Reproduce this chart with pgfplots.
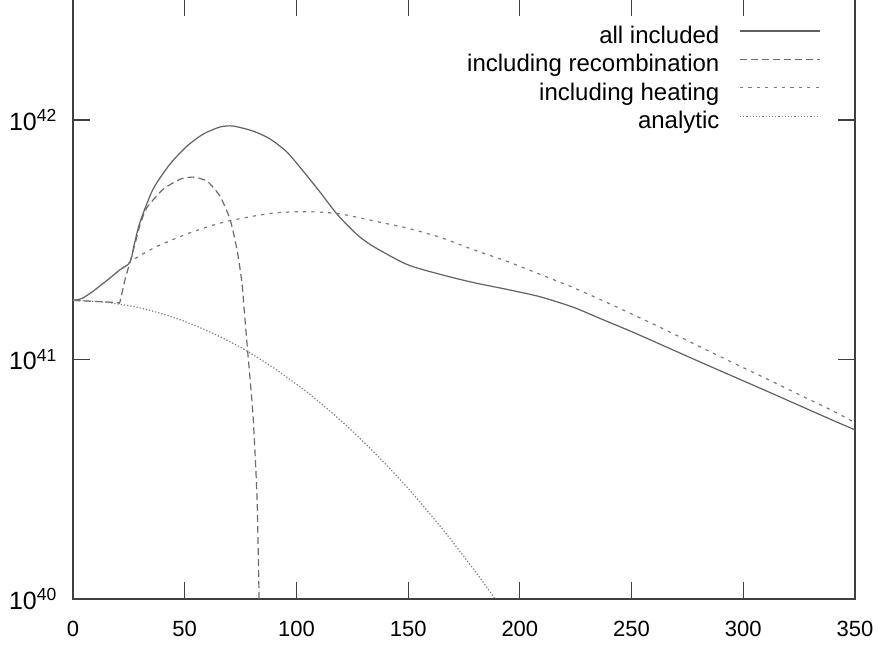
\documentclass[border=0pt]{standalone}
\usepackage{fontspec}
\setmainfont{Liberation Sans}
\usepackage{pgfplots}
\pgfplotsset{compat=1.18}
\begin{document}
\begin{tikzpicture}
\begin{axis}[
  scale only axis, width=391pt, height=300pt,
  ymode=log, xmin=0, xmax=350, ymin=1e40, ymax=3.2e42,
  xtick={0,50,...,350}, ytick={1e40,1e41,1e42},
  yticklabels={10\textsuperscript{40},10\textsuperscript{41},10\textsuperscript{42}},
  yminorticks=false, xminorticks=false,
  tick align=inside, major tick length=8.5pt,
  axis line style={black!75, line width=0.6pt},
  every tick/.style={black!75, line width=0.6pt},
  /pgf/number format/assume math mode=true,
  xticklabel style={font=\fontsize{11}{13}\selectfont, yshift=-7.5pt},
  yticklabel style={font=\fontsize{12.5}{14}\selectfont, xshift=-4.3pt},
  no markers,
  legend plot pos=right,
  legend cell align=right,
  legend style={draw=none, fill=none, at={(rel axis cs:0.956,0.955)}, anchor=north east,
    font=\fontsize{12}{14}\selectfont, row sep=3.2pt, inner sep=0pt, outer sep=0pt,
    column sep=10pt, nodes={inner sep=0pt, text height=8.6pt, text depth=2.4pt}},
  legend image code/.code={\draw[#1] (0pt,3pt) -- (40pt,3pt);},
]
\addplot[black!62, line width=0.6pt, smooth, tension=0.45] coordinates {
(0,1.766e41) (4,1.80e41) (9,1.93e41) (16,2.17e41) (21,2.37e41) (25.5,2.55e41)
(27.5,3.05e41) (30,3.75e41) (35.8,5.14e41) (43.4,6.546e41) (51,7.78e41)
(58.2,8.73e41) (65.8,9.354e41) (71.6,9.441e41) (80.6,8.995e41) (88.2,8.337e41)
(95.8,7.345e41) (103,6.124e41) (110.6,5.0e41) (118.2,4.046e41) (127,3.334e41)
(134.3,2.972e41) (149.5,2.495e41) (164.3,2.27e41) (179,2.099e41) (194.3,1.963e41)
(209,1.83e41) (223.8,1.655e41) (235.9,1.485e41) (250.7,1.30e41) (265.9,1.125e41)
(280.7,9.77e40) (295.4,8.51e40) (310.6,7.38e40) (325.4,6.41e40) (340.2,5.57e40)
(350,5.09e40)
};
\addlegendentry{all included}
\addplot[black!58, line width=0.6pt, dash pattern=on 3.5pt off 2pt, smooth, tension=0.35] coordinates {
(0,1.766e41) (10,1.75e41) (20,1.73e41) (21,1.74e41) (23.3,2.16e41) (25.5,2.55e41)
(28,3.1e41) (30,3.65e41) (33,4.3e41) (40.3,5.14e41) (47.9,5.66e41) (53.7,5.78e41)
(60,5.56e41) (65.8,4.81e41) (70.3,3.85e41) (73.4,2.88e41) (75.6,2.10e41)
(76.6,1.62e41) (78.3,1.05e41) (80.6,5.8e40) (82.4,2.6e40) (83.3,1.0e40)
};
\addlegendentry{including recombination}
\addplot[black!52, line width=0.6pt, dash pattern=on 1.6pt off 2.6pt, smooth, tension=0.45] coordinates {
(0,1.766e41) (4,1.80e41) (9,1.93e41) (16,2.17e41) (21,2.37e41) (25.5,2.55e41)
(30,2.72e41) (37,2.95e41) (45,3.18e41) (53,3.40e41) (61,3.60e41) (69,3.78e41)
(80,3.96e41) (90,4.09e41) (100,4.14e41) (110,4.13e41) (120,4.05e41) (134.3,3.80e41)
(149.5,3.54e41) (164.3,3.24e41) (179,2.88e41) (194.3,2.57e41) (209,2.27e41)
(223.8,2.0e41) (239,1.73e41) (250.7,1.54e41) (265.9,1.32e41) (280.7,1.13e41)
(295.4,9.70e40) (310.6,8.30e40) (325.4,7.11e40) (340.2,6.10e40) (350,5.45e40)
};
\addlegendentry{including heating}
\addplot[black!52, line width=0.6pt, dash pattern=on 0.6pt off 1pt, smooth, tension=0.45] coordinates {
(0,1.766e41) (15,1.734e41) (30,1.644e41) (45,1.500e41) (60,1.321e41) (75,1.125e41)
(90,9.20e40) (105,7.28e40) (120,5.55e40) (135,4.08e40) (150,2.90e40)
(165,1.98e40) (180,1.306e40) (189,1.0e40)
};
\addlegendentry{analytic}
\end{axis}
\pgfresetboundingbox
\path[use as bounding box] (-36.5pt,-22.5pt) rectangle (402.5pt,299.6pt);
\end{tikzpicture}
\end{document}
